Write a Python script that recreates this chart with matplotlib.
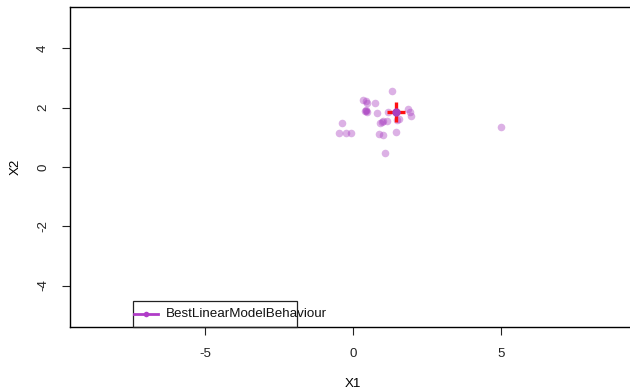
import matplotlib
matplotlib.use("Agg")
import matplotlib.pyplot as plt
from matplotlib.patches import Rectangle
from matplotlib.lines import Line2D

plt.rcParams['font.family'] = ['Liberation Sans', 'DejaVu Sans']
plt.rcParams['axes.unicode_minus'] = False

# sampled points (X1, X2)
x1 = [1.31, 0.35, 0.44, 0.46, 0.74, 0.44, 0.46, 0.82, 1.19, 1.85, 1.93, 1.97,
      1.50, 1.54, 1.00, 0.97, 1.14, 0.91, -0.36, -0.47, -0.25, -0.08, 0.89,
      1.02, 1.44, 1.07, 5.00, 0.42, 0.45]
x2 = [2.58, 2.26, 2.24, 2.17, 2.17, 1.93, 1.85, 1.83, 1.85, 1.97, 1.85, 1.73,
      1.59, 1.62, 1.56, 1.52, 1.54, 1.48, 1.48, 1.14, 1.14, 1.14, 1.11,
      1.08, 1.17, 0.46, 1.36, 1.90, 1.88]

# best model point and its spread
best_x = [1.45]
best_y = [1.86]
spread_x = 0.31
spread_y = 0.35

xticks = [-5, 0, 5]
yticks = [-4, -2, 0, 2, 4]

fig = plt.figure(figsize=(6.3, 3.9), dpi=100)
ax = fig.add_axes([70/630, 63/390, 566/630, 320/390])
ax.set_xlim(-9.56, 9.56)
ax.set_ylim(-5.4, 5.4)

ax.scatter(x1, x2, s=30, color='#a83cc0', alpha=0.4, linewidths=0, zorder=2)

ax.plot([best_x[0] - spread_x, best_x[0] + spread_x], [best_y[0], best_y[0]],
        color='#ff1010', lw=2.4, solid_capstyle='butt', zorder=3)
ax.plot([best_x[0], best_x[0]], [best_y[0] - spread_y, best_y[0] + spread_y],
        color='#ff1010', lw=2.4, solid_capstyle='butt', zorder=3)
ax.plot(best_x, best_y, 'o', color='#a840c0', ms=6, mew=0, zorder=4)

for s in ['left', 'bottom', 'top']:
    ax.spines[s].set_linewidth(1.0)
ax.spines['right'].set_visible(False)

ax.set_xticks(xticks)
ax.set_yticks(yticks)
ax.tick_params(direction='out', length=6, width=0.8, labelsize=9.6,
               colors='#222222', pad=9)
plt.setp(ax.get_yticklabels(), rotation=90, va='center')
ax.set_xlabel('X1', fontsize=9.6, labelpad=13)
ax.set_ylabel('X2', fontsize=9.6, labelpad=11)

# legend drawn R-style, text spilling past the box
fig.add_artist(Rectangle((133/630, 63/390), 164/630, 26/390, fill=False,
                         edgecolor='#222222', lw=0.9,
                         transform=fig.transFigure))
fig.add_artist(Line2D([134/630, 158/630], [76/390, 76/390], color='#b03cc8',
                      lw=2, transform=fig.transFigure))
fig.add_artist(Line2D([146/630], [76/390], color='#b03cc8', marker='o', ms=4,
                      mew=0, transform=fig.transFigure))
fig.text(166/630, 76/390, 'BestLinearModelBehaviour', fontsize=9.6,
         va='center', ha='left', color='#111111')

fig.savefig('out.png', dpi=100)
